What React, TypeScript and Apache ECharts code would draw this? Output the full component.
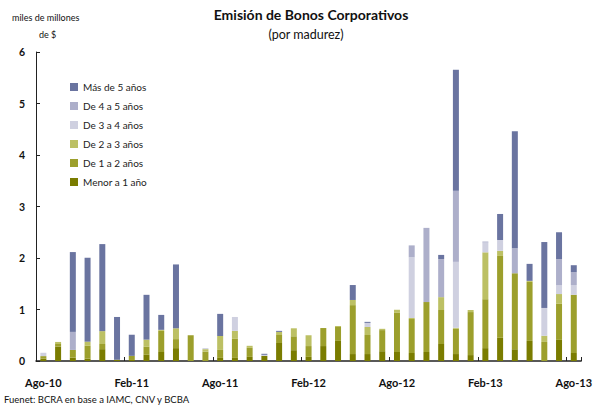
import React, { useEffect, useRef } from "react";
import * as echarts from "echarts";

const months = [
  "Ago-10", "Sep-10", "Oct-10", "Nov-10", "Dic-10", "Ene-11", "Feb-11", "Mar-11", "Abr-11", "May-11",
  "Jun-11", "Jul-11", "Ago-11", "Sep-11", "Oct-11", "Nov-11", "Dic-11", "Ene-12", "Feb-12", "Mar-12",
  "Abr-12", "May-12", "Jun-12", "Jul-12", "Ago-12", "Sep-12", "Oct-12", "Nov-12", "Dic-12", "Ene-13",
  "Feb-13", "Mar-13", "Abr-13", "May-13", "Jun-13", "Jul-13", "Ago-13",
];

const menor1 = [
  0.045, 0.28, 0.065, 0.045, 0.23, 0.025, 0.02, 0.12, 0.175, 0.25,
  0, 0, 0.06, 0.06, 0.08, 0.1, 0.35, 0.21, 0.08, 0.29,
  0.39, 0.135, 0.135, 0.19, 0.175, 0.155, 0.175, 0.33, 0.135, 0.115,
  0.25, 0.45, 0.23, 0.39, 0, 0.41, 0.155,
];
const de1a2 = [
  0.05, 0.05, 0.15, 0.25, 0.1, 0, 0.08, 0.155, 0.41, 0.175,
  0.5, 0.18, 0.155, 0.37, 0.175, 0, 0.155, 0.27, 0.21, 0.35,
  0.27, 0.95, 0.37, 0.41, 0.76, 0.66, 0.97, 0.66, 0.49, 0.835,
  0.95, 1.59, 1.475, 1.146, 0.37, 0.7, 1.13,
];
const de2a3 = [
  0, 0.04, 0, 0.08, 0.25, 0, 0, 0.14, 0.02, 0.21,
  0, 0.05, 0.27, 0.155, 0.04, 0, 0.06, 0.155, 0.21, 0,
  0.02, 0.1, 0.155, 0.025, 0.06, 0.02, 0, 0.25, 0.02, 0.04,
  0.91, 0.1, 0, 0.02, 0.12, 0.19, 0,
];
const de3a4 = [
  0.065, 0, 0, 0, 0, 0, 0, 0, 0, 0,
  0, 0.02, 0, 0.27, 0, 0.02, 0, 0, 0, 0,
  0, 0, 0.08, 0, 0, 1.18, 0, 0, 1.28, 0,
  0.19, 0.21, 0, 0, 0.54, 0.175, 0.19,
];
const de4a5 = [
  0, 0, 0.35, 0, 0, 0, 0, 0, 0, 0,
  0, 0, 0, 0, 0, 0, 0, 0, 0, 0,
  0, 0, 0, 0, 0, 0.23, 1.44, 0.74, 1.38, 0,
  0.02, 0, 0.485, 0, 0, 0.505, 0.25,
];
const mas5 = [
  0, 0, 1.55, 1.63, 1.69, 0.83, 0.41, 0.87, 0.29, 1.24,
  0, 0, 0.43, 0, 0, 0.02, 0.02, 0, 0, 0,
  0, 0.29, 0.02, 0, 0, 0, 0, 0.08, 2.35, 0,
  0, 0.505, 2.27, 0.33, 1.28, 0.52, 0.135,
];

const seriesNames = [
  "Menor a 1 año",
  "De 1 a 2 años",
  "De 2 a 3 años",
  "De 3 a 4 años",
  "De 4 a 5 años",
  "Más de 5 años",
];
const seriesData = [menor1, de1a2, de2a3, de3a4, de4a5, mas5];
const seriesColors = ["#7a7c00", "#9c9f2c", "#bcc064", "#cfd0e0", "#adafca", "#6a74a0"];
const legendOrder = [
  "Más de 5 años",
  "De 4 a 5 años",
  "De 3 a 4 años",
  "De 2 a 3 años",
  "De 1 a 2 años",
  "Menor a 1 año",
];

const FONT = "Lato, 'Open Sans', sans-serif";

export default function App() {
  const ref = useRef<HTMLDivElement>(null);
  useEffect(() => {
    if (!ref.current) return;
    const chart = echarts.init(ref.current, null, { renderer: "svg" });
    chart.setOption({
      animation: false,
      backgroundColor: "#ffffff",
      textStyle: { fontFamily: FONT },
      grid: { left: 36, right: 11, top: 52, bottom: 45, containLabel: false },
      legend: {
        orient: "vertical",
        left: 65,
        top: 76,
        data: legendOrder,
        itemWidth: 8,
        itemHeight: 8,
        itemGap: 7,
        icon: "rect",
        textStyle: { fontFamily: FONT, fontSize: 10, color: "#222", lineHeight: 12 },
      },
      xAxis: {
        type: "category",
        data: months,
        axisLine: { show: true, lineStyle: { color: "#222", width: 1.5 } },
        axisTick: { show: true, inside: true, length: 4, interval: 5, alignWithLabel: false, lineStyle: { color: "#222" } },
        axisLabel: { interval: 5, margin: 16, fontFamily: FONT, fontSize: 11, fontWeight: "bold", color: "#111" },
        splitLine: { show: false },
      },
      yAxis: {
        type: "value",
        min: 0,
        max: 6,
        interval: 1,
        axisLine: { show: true, lineStyle: { color: "#222", width: 1 } },
        axisTick: { show: true, inside: true, length: 4, lineStyle: { color: "#222" } },
        axisLabel: { margin: 11, fontFamily: FONT, fontSize: 10.5, fontWeight: "bold", color: "#111" },
        splitLine: { show: false },
      },
      series: seriesNames.map((name, i) => ({
        name,
        type: "bar",
        stack: "total",
        barWidth: 6,
        data: seriesData[i],
        itemStyle: { color: seriesColors[i] },
      })),
      graphic: [
        {
          type: "text",
          x: 311,
          y: 14,
          style: {
            text: "Emisión de Bonos Corporativos",
            fontFamily: FONT,
            fontSize: 14,
            fontWeight: "bold",
            fill: "#111",
            textAlign: "center",
            textVerticalAlign: "middle",
          },
        },
        {
          type: "text",
          x: 306,
          y: 34,
          style: {
            text: "(por madurez)",
            fontFamily: FONT,
            fontSize: 12.5,
            fill: "#111",
            textAlign: "center",
            textVerticalAlign: "middle",
          },
        },
        {
          type: "text",
          x: 12,
          y: 17,
          style: {
            text: "miles de millones",
            fontFamily: FONT,
            fontSize: 9,
            fill: "#111",
            textAlign: "left",
            textVerticalAlign: "middle",
          },
        },
        {
          type: "text",
          x: 39,
          y: 34,
          style: {
            text: "de $",
            fontFamily: FONT,
            fontSize: 9,
            fill: "#111",
            textAlign: "left",
            textVerticalAlign: "middle",
          },
        },
        {
          type: "text",
          x: 4,
          y: 399,
          style: {
            text: "Fuenet: BCRA en base a IAMC, CNV y BCBA",
            fontFamily: FONT,
            fontSize: 9.5,
            fill: "#111",
            textAlign: "left",
            textVerticalAlign: "middle",
          },
        },
      ],
    });
    return () => chart.dispose();
  }, []);
  return (
    <div
      ref={ref}
      style={{ position: "fixed", left: 0, top: 0, width: 595, height: 406, background: "#fff" }}
    />
  );
}
